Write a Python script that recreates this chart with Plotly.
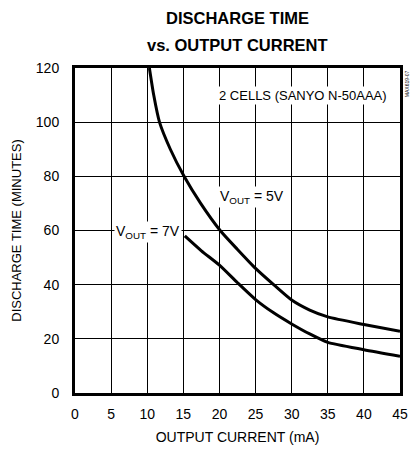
import plotly.graph_objects as go

# Data
x_5v = [10.3, 10.9, 11.7, 13.2, 15.1, 17.4, 20.1, 22.5, 25, 27.5, 30, 32.5, 35, 40, 45]
y_5v = [120, 110, 100, 90, 80, 70, 60, 53, 46, 40, 34.3, 30.6, 28.1, 25.3, 22.8]

x_7v = [15.2, 17.5, 20, 22.5, 25, 27.5, 30, 32.5, 35, 40, 45]
y_7v = [58, 52.5, 47.2, 40.7, 34.5, 29.6, 25.5, 21.8, 18.7, 16, 13.6]

x_ticks = [0, 5, 10, 15, 20, 25, 30, 35, 40, 45]
y_ticks = [0, 20, 40, 60, 80, 100, 120]

FONT = "Liberation Sans Narrow, Liberation Sans, Arial, sans-serif"

fig = go.Figure()
for xs, ys in [(x_5v, y_5v), (x_7v, y_7v)]:
    fig.add_trace(go.Scatter(x=xs, y=ys, mode="lines",
                             line=dict(color="black", width=3, shape="spline", smoothing=0.6),
                             showlegend=False, hoverinfo="skip"))

fig.update_layout(
    width=412, height=453,
    margin=dict(l=75, r=12, t=68, b=60, autoexpand=False),
    paper_bgcolor="white", plot_bgcolor="white",
    font=dict(family=FONT, color="black", size=14),
    xaxis=dict(range=[0, 45], tickvals=x_ticks, showgrid=True, gridcolor="black", gridwidth=1,
               showline=True, linecolor="black", linewidth=3, mirror=True, zeroline=False,
               ticks="", tickfont=dict(size=14), ticklabelstandoff=6, automargin=False,
               title=dict(text="OUTPUT CURRENT (mA)", font=dict(size=14), standoff=12)),
    yaxis=dict(range=[0, 120], tickvals=y_ticks, showgrid=True, gridcolor="black", gridwidth=1,
               showline=True, linecolor="black", linewidth=3, mirror=True, zeroline=False,
               ticks="", tickfont=dict(size=14), ticklabelstandoff=10, automargin=False,
               title=dict(text="DISCHARGE TIME (MINUTES)", font=dict(size=13), standoff=12)),
    annotations=[
        dict(x=0.5, y=18, xref="paper", yref="paper", yanchor="middle",
             text="<b>DISCHARGE TIME</b>", showarrow=False, font=dict(size=16.5)),
        dict(x=0.5, y=45, xref="paper", yref="paper", yanchor="middle",
             text="<b>vs. OUTPUT CURRENT</b>", showarrow=False, font=dict(size=16.5)),
        dict(x=31.6, y=110, xref="x", yref="y", text="2 CELLS (SANYO N-50AAA)", showarrow=False,
             bgcolor="white", font=dict(size=13), borderpad=1),
        dict(x=24.5, y=72.5, xref="x", yref="y", text="V<sub>OUT</sub> = 5V", showarrow=False,
             bgcolor="white", font=dict(size=14), borderpad=1),
        dict(x=14.8, y=59.5, xref="x", yref="y", xanchor="right", text="V<sub>OUT</sub> = 7V",
             showarrow=False, bgcolor="white", font=dict(size=14), borderpad=1),
        dict(x=1.005, y=1.0, xref="paper", yref="paper", xanchor="left", yanchor="top",
             text="MAX619-07", textangle=-90, showarrow=False, font=dict(size=5)),
    ],
)

# Title lines are positioned in pixels from the top: convert to paper coords
H_PLOT = 453 - 68 - 60
for ann in fig.layout.annotations[:2]:
    ann.y = 1 + (68 - ann.y) / H_PLOT

fig.write_html("out.html", config={"displayModeBar": False},
               post_script="document.body.style.margin='0';")
